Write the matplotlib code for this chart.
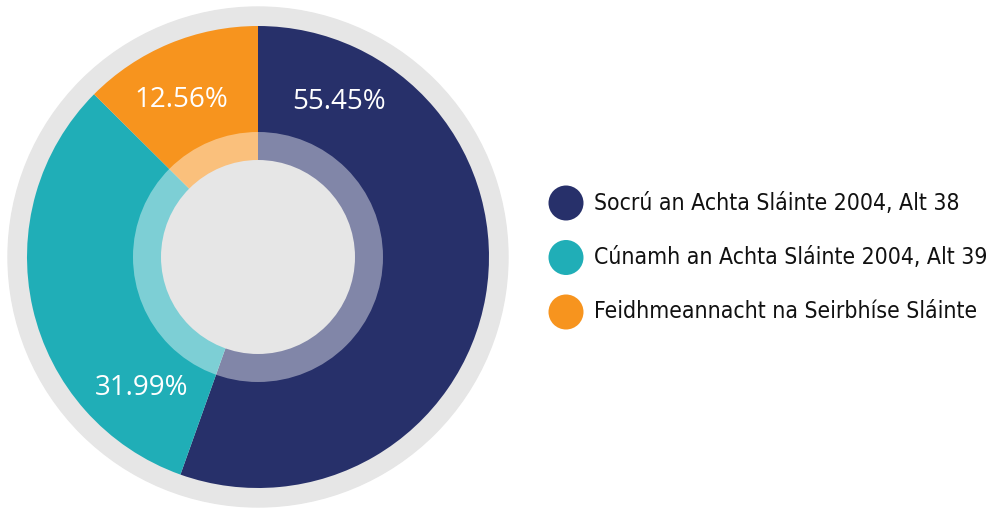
import matplotlib.pyplot as plt
from matplotlib.patches import Circle
import numpy as np

# data
labels = ["Socrú an Achta Sláinte 2004, Alt 38",
          "Cúnamh an Achta Sláinte 2004, Alt 39",
          "Feidhmeannacht na Seirbhíse Sláinte"]
values = [55.45, 31.99, 12.56]
colors = ["#27306A", "#20AEB7", "#F7941E"]

# layout (pixel units, y up)
cx, cy = 258, 252
r_bg, r_pie, r_ring, r_hole = 250, 231, 125, 97
label_angle = [62.6, 228.5, 116.1]   # degrees, where the % text sits
label_r = 175

fig = plt.figure(figsize=(9.92, 5.09), dpi=100)
ax = fig.add_axes([0, 0, 1, 1])

ax.add_patch(Circle((cx, cy), r_bg, color="#E6E6E6", zorder=0))
ax.pie(values, colors=colors, startangle=90, counterclock=False,
       radius=r_pie, center=(cx, cy), wedgeprops=dict(linewidth=0))
ax.add_patch(Circle((cx, cy), r_ring, color="white", alpha=0.42, lw=0, zorder=5))
ax.add_patch(Circle((cx, cy), r_hole, color="#E6E6E6", lw=0, zorder=6))

for v, a in zip(values, label_angle):
    t = np.deg2rad(a)
    ax.text(cx + label_r * np.cos(t), cy + label_r * np.sin(t), f"{v:.2f}%",
            ha="center", va="center", color="white", fontsize=20,
            family="Open Sans", zorder=7)

# legend
for i, (lab, c) in enumerate(zip(labels, colors)):
    y = 306 - i * 54.5
    ax.add_patch(Circle((566, y), 17.5, color=c, lw=0))
    ax.text(594, y, lab, ha="left", va="center", fontsize=16.5,
            family="DejaVu Sans", fontstretch="condensed", color="#111111")

ax.set_xlim(0, 992)
ax.set_ylim(0, 509)
ax.set_aspect("equal")
ax.axis("off")
fig.savefig("out.png", dpi=100)
